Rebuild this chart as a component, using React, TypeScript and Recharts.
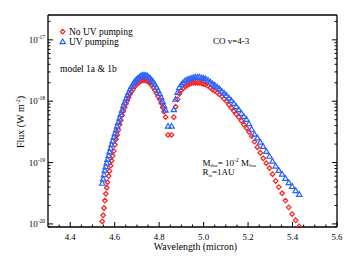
import React from 'react';
import { ScatterChart, Scatter, XAxis, YAxis } from 'recharts';

// Wavelengths (micron) of the R-branch (short side) and P-branch (long side) lines
const waveR = [4.544, 4.548, 4.552, 4.556, 4.560, 4.564, 4.568, 4.573, 4.577, 4.582, 4.586, 4.591, 4.596, 4.601, 4.606, 4.611, 4.616, 4.622, 4.627, 4.633, 4.639, 4.645, 4.651, 4.657, 4.663, 4.670, 4.676, 4.683, 4.690, 4.697, 4.704, 4.711, 4.718, 4.725, 4.732, 4.739, 4.746, 4.753, 4.760, 4.767, 4.774, 4.781, 4.788, 4.795, 4.802, 4.809, 4.816, 4.822, 4.829, 4.840];
const waveP = [4.856, 4.866, 4.874, 4.883, 4.891, 4.900, 4.908, 4.917, 4.926, 4.935, 4.944, 4.953, 4.962, 4.972, 4.981, 4.991, 5.000, 5.010, 5.020, 5.030, 5.040, 5.050, 5.061, 5.071, 5.082, 5.092, 5.103, 5.114, 5.125, 5.136, 5.147, 5.158, 5.170, 5.181, 5.193, 5.204, 5.216, 5.229, 5.242, 5.255, 5.268, 5.282, 5.296, 5.310, 5.324, 5.338, 5.353, 5.368, 5.383, 5.398, 5.414, 5.430];

// log10 Flux (W m^-2), No UV pumping
const noUvR = [-19.96, -19.86, -19.74, -19.62, -19.51, -19.41, -19.32, -19.22, -19.14, -19.05, -18.97, -18.89, -18.81, -18.71, -18.62, -18.55, -18.47, -18.38, -18.31, -18.23, -18.16, -18.10, -18.04, -17.99, -17.94, -17.88, -17.84, -17.80, -17.76, -17.73, -17.71, -17.69, -17.67, -17.66, -17.66, -17.66, -17.67, -17.69, -17.71, -17.74, -17.78, -17.82, -17.87, -17.92, -17.97, -18.03, -18.10, -18.17, -18.26, -18.55];
const noUvP = [-18.55, -18.26, -18.09, -17.97, -17.88, -17.82, -17.79, -17.76, -17.74, -17.72, -17.71, -17.70, -17.70, -17.70, -17.70, -17.71, -17.72, -17.73, -17.75, -17.78, -17.81, -17.83, -17.86, -17.89, -17.92, -17.96, -18.00, -18.06, -18.11, -18.16, -18.21, -18.26, -18.32, -18.38, -18.44, -18.50, -18.57, -18.66, -18.75, -18.84, -18.93, -19.01, -19.09, -19.19, -19.30, -19.40, -19.50, -19.62, -19.73, -19.84, -19.94, -20.04];

// log10 Flux (W m^-2), UV pumping
const uvR = [-19.34, -19.27, -19.20, -19.13, -19.07, -19.01, -18.95, -18.89, -18.83, -18.77, -18.71, -18.65, -18.59, -18.53, -18.47, -18.41, -18.35, -18.28, -18.22, -18.15, -18.08, -18.02, -17.96, -17.91, -17.86, -17.80, -17.76, -17.72, -17.68, -17.65, -17.63, -17.61, -17.59, -17.58, -17.58, -17.58, -17.59, -17.61, -17.63, -17.66, -17.69, -17.73, -17.78, -17.83, -17.88, -17.94, -18.01, -18.08, -18.15, -18.41];
const uvP = [-18.41, -18.14, -17.97, -17.86, -17.78, -17.73, -17.70, -17.67, -17.65, -17.64, -17.63, -17.62, -17.61, -17.61, -17.61, -17.62, -17.63, -17.64, -17.66, -17.69, -17.72, -17.74, -17.77, -17.80, -17.84, -17.87, -17.91, -17.95, -17.99, -18.04, -18.09, -18.14, -18.20, -18.25, -18.30, -18.37, -18.46, -18.54, -18.60, -18.67, -18.74, -18.82, -18.90, -18.98, -19.06, -19.13, -19.19, -19.26, -19.33, -19.39, -19.46, -19.52];

// Axis ticks
const xTicks = [4.35, 4.40, 4.45, 4.50, 4.55, 4.60, 4.65, 4.70, 4.75, 4.80, 4.85, 4.90, 4.95, 5.00, 5.05, 5.10, 5.15, 5.20, 5.25, 5.30, 5.35, 5.40, 5.45, 5.50, 5.55, 5.60];
const xLabels = [4.4, 4.6, 4.8, 5.0, 5.2, 5.4, 5.6];
const yDecades = [-20, -19, -18, -17];
const yDecadeLabels = ['-20', '-19', '-18', '-17'];
const yMinorFactors = [2, 3, 4, 5, 6, 7, 8, 9];

const X_DOMAIN: [number, number] = [4.3, 5.6];
const Y_DOMAIN: [number, number] = [-20.05, -16.595];

const yTicks: number[] = [];
[-21, -20, -19, -18, -17].forEach((d) => {
  if (d >= Y_DOMAIN[0] && d <= Y_DOMAIN[1]) yTicks.push(d);
  yMinorFactors.forEach((k) => {
    const v = d + Math.log10(k);
    if (v >= Y_DOMAIN[0] && v <= Y_DOMAIN[1]) yTicks.push(v);
  });
});
yTicks.sort((a, b) => a - b);

const noUvData = [
  ...waveR.map((x, i) => ({ x, y: noUvR[i] })),
  ...waveP.map((x, i) => ({ x, y: noUvP[i] })),
];
const uvData = [
  ...waveR.map((x, i) => ({ x, y: uvR[i] })),
  ...waveP.map((x, i) => ({ x, y: uvP[i] })),
];

const FONT = '"Liberation Serif", "Times New Roman", Times, serif';
const RED = '#ff1f1f';
const BLUE = '#2a62ff';

const diamondPath = (cx: number, cy: number, r: number) =>
  `M${cx},${cy - r} L${cx + r},${cy} L${cx},${cy + r} L${cx - r},${cy} Z`;
const trianglePath = (cx: number, cy: number) =>
  `M${cx},${cy - 2.9} L${cx + 2.7},${cy + 1.8} L${cx - 2.7},${cy + 1.8} Z`;

const DiamondShape = (props: any) => {
  const { cx, cy } = props;
  if (cx == null || cy == null) return null;
  return <path d={diamondPath(cx, cy, 2.3)} fill="none" stroke={RED} strokeWidth={1.2} />;
};
const TriangleShape = (props: any) => {
  const { cx, cy } = props;
  if (cx == null || cy == null) return null;
  return <path d={trianglePath(cx, cy)} fill="none" stroke={BLUE} strokeWidth={1.2} />;
};

const isMajorX = (v: number) => xLabels.some((t) => Math.abs(t - v) < 1e-6);
const decadeIndex = (v: number) => yDecades.findIndex((d) => Math.abs(d - v) < 1e-6);

const BottomTick = (props: any) => {
  const { x, y, payload } = props;
  const v = payload.value as number;
  const major = isMajorX(v);
  return (
    <g>
      <line x1={x} x2={x} y1={y} y2={y - (major ? 5 : 2.5)} stroke="#000" strokeWidth={1} />
      {major && (
        <text x={x} y={y + 13.3} textAnchor="middle" fontSize={8.8} fontFamily={FONT} fill="#000">
          {v.toFixed(1)}
        </text>
      )}
    </g>
  );
};

const TopTick = (props: any) => {
  const { x, y, payload } = props;
  const major = isMajorX(payload.value);
  return <line x1={x} x2={x} y1={y} y2={y + (major ? 5 : 2.5)} stroke="#000" strokeWidth={1} />;
};

const LeftTick = (props: any) => {
  const { x, y, payload } = props;
  const idx = decadeIndex(payload.value);
  const major = idx >= 0;
  return (
    <g>
      <line x1={x} x2={x + (major ? 5 : 2.5)} y1={y} y2={y} stroke="#000" strokeWidth={1} />
      {major && (
        <text x={x - 3} y={y + 3.2} textAnchor="end" fontSize={9} fontFamily={FONT} fill="#000">
          <tspan>10</tspan>
          <tspan dy={-4} fontSize={5.5}>{yDecadeLabels[idx]}</tspan>
        </text>
      )}
    </g>
  );
};

const RightTick = (props: any) => {
  const { x, y, payload } = props;
  const major = decadeIndex(payload.value) >= 0;
  return <line x1={x} x2={x - (major ? 5 : 2.5)} y1={y} y2={y} stroke="#000" strokeWidth={1} />;
};

const W = 344;
const H = 251;

export default function App() {
  const axisLine = { stroke: '#000', strokeWidth: 1.3 };
  return (
    <div style={{ position: 'relative', width: W, height: H }}>
      <ScatterChart width={W} height={H} margin={{ top: 6, right: 14, bottom: 0, left: 0 }}>
        <XAxis
          xAxisId="b"
          dataKey="x"
          type="number"
          orientation="bottom"
          domain={X_DOMAIN}
          allowDataOverflow
          ticks={xTicks}
          interval={0}
          height={32}
          tickLine={false}
          tickSize={0}
          tickMargin={0}
          axisLine={axisLine}
          tick={<BottomTick />}
        />
        <XAxis
          xAxisId="t"
          type="number"
          orientation="top"
          domain={X_DOMAIN}
          allowDataOverflow
          ticks={xTicks}
          interval={0}
          height={1}
          tickLine={false}
          tickSize={0}
          tickMargin={0}
          axisLine={axisLine}
          tick={<TopTick />}
        />
        <YAxis
          yAxisId="l"
          dataKey="y"
          type="number"
          orientation="left"
          domain={Y_DOMAIN}
          allowDataOverflow
          ticks={yTicks}
          interval={0}
          width={40}
          tickLine={false}
          tickSize={0}
          tickMargin={0}
          axisLine={axisLine}
          tick={<LeftTick />}
        />
        <YAxis
          yAxisId="r"
          type="number"
          orientation="right"
          domain={Y_DOMAIN}
          allowDataOverflow
          ticks={yTicks}
          interval={0}
          width={1}
          tickLine={false}
          tickSize={0}
          tickMargin={0}
          axisLine={axisLine}
          tick={<RightTick />}
        />
        <Scatter
          name="No UV pumping"
          data={noUvData}
          xAxisId="b"
          yAxisId="l"
          shape={DiamondShape}
          isAnimationActive={false}
        />
        <Scatter
          name="UV pumping"
          data={uvData}
          xAxisId="b"
          yAxisId="l"
          shape={TriangleShape}
          isAnimationActive={false}
        />
      </ScatterChart>
      <svg
        width={W}
        height={H}
        style={{ position: 'absolute', left: 0, top: 0, pointerEvents: 'none' }}
      >
        <g fontFamily={FONT} fill="#000">
          <path d={diamondPath(54.7, 23.7, 2.3)} fill="none" stroke={RED} strokeWidth={1.2} />
          <text x={61} y={27} fontSize={9.5}>No UV pumping</text>
          <path d={trianglePath(54.7, 33.9)} fill="none" stroke={BLUE} strokeWidth={1.2} />
          <text x={61} y={37} fontSize={9.5}>UV pumping</text>
          <text x={52} y={63.5} fontSize={9.5}>model 1a &amp; 1b</text>
          <text x={205} y={36} fontSize={9}>CO v=4-3</text>
          <text x={194.5} y={157.5} fontSize={9}>
            <tspan>M</tspan>
            <tspan fontSize={4.5} dy={1.5}>disc</tspan>
            <tspan dy={-1.5}>= 10</tspan>
            <tspan fontSize={5.5} dy={-4}>-2</tspan>
            <tspan dy={4}> M</tspan>
            <tspan fontSize={4.5} dy={1.5}>Sun</tspan>
          </text>
          <text x={194.5} y={167} fontSize={9}>
            <tspan>R</tspan>
            <tspan fontSize={4.5} dy={1.5}>in</tspan>
            <tspan dy={-1.5}>=1AU</tspan>
          </text>
          <text x={187.5} y={241.8} fontSize={9.8} textAnchor="middle">Wavelength (micron)</text>
          <text
            x={0}
            y={0}
            fontSize={10}
            textAnchor="middle"
            transform="translate(15.5,114) rotate(-90)"
          >
            <tspan>Flux (W m</tspan>
            <tspan fontSize={6} dy={-4}>-2</tspan>
            <tspan dy={4}>)</tspan>
          </text>
        </g>
      </svg>
    </div>
  );
}
